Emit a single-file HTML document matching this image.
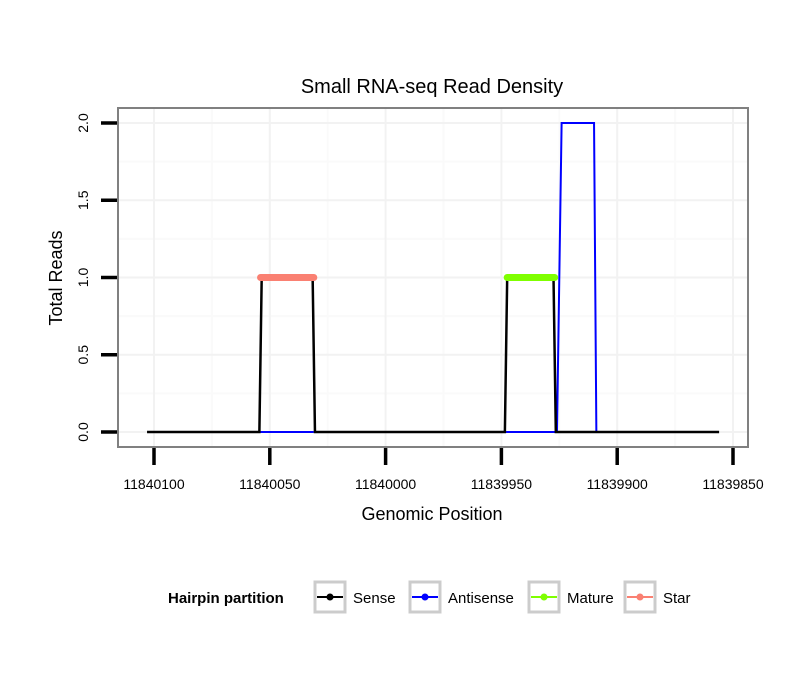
<!DOCTYPE html>
<html><head><meta charset="utf-8"><style>
body{margin:0;background:#fff;font-family:"Liberation Sans",sans-serif}
</style></head><body>
<svg width="810" height="690" xmlns="http://www.w3.org/2000/svg" font-family="Liberation Sans, sans-serif">
<rect width="810" height="690" fill="#fff"/>
<text x="432" y="93" font-size="20" text-anchor="middle">Small RNA-seq Read Density</text>
<g id="grid"></g>
<g id="series"></g>
<rect x="118" y="108" width="630" height="339" fill="none" stroke="#808080" stroke-width="2"/>
<g id="axes"></g>
<text x="432" y="520" font-size="18" text-anchor="middle">Genomic Position</text>
<text transform="translate(62,278) rotate(-90)" font-size="18" text-anchor="middle">Total Reads</text>
<g font-size="15">
<text x="168" y="603" font-weight="bold">Hairpin partition</text>
<g><rect x="315" y="582" width="30" height="30" fill="#fff" stroke="#ccc" stroke-width="3"/><line x1="317" y1="597" x2="343" y2="597" stroke="#000" stroke-width="2"/><circle cx="330" cy="597" r="3.5" fill="#000"/><text x="353" y="603">Sense</text></g>
<g><rect x="410" y="582" width="30" height="30" fill="#fff" stroke="#ccc" stroke-width="3"/><line x1="412" y1="597" x2="438" y2="597" stroke="#00f" stroke-width="2"/><circle cx="425" cy="597" r="3.5" fill="#00f"/><text x="448" y="603">Antisense</text></g>
<g><rect x="529" y="582" width="30" height="30" fill="#fff" stroke="#ccc" stroke-width="3"/><line x1="531" y1="597" x2="557" y2="597" stroke="#7fff00" stroke-width="2"/><circle cx="544" cy="597" r="3.5" fill="#7fff00"/><text x="567" y="603">Mature</text></g>
<g><rect x="625" y="582" width="30" height="30" fill="#fff" stroke="#ccc" stroke-width="3"/><line x1="627" y1="597" x2="653" y2="597" stroke="#fa8072" stroke-width="2"/><circle cx="640" cy="597" r="3.5" fill="#fa8072"/><text x="663" y="603">Star</text></g>
</g>
</svg>
<script>
const xTicks=[11840100,11840050,11840000,11839950,11839900,11839850];
const xTickLabels=["11840100","11840050","11840000","11839950","11839900","11839850"];
const yTicks=[0,0.5,1,1.5,2];
const yTickLabels=["0.0","0.5","1.0","1.5","2.0"];
const sensePos=[11840103,11840054.5,11840053.5,11840031.5,11840030.5,11839948.5,11839947.5,11839927.5,11839926.5,11839856];
const senseVal=[0,0,1,1,0,0,1,1,0,0];
const antiPos1=[11840054,11840031];
const antiVal1=[0,0];
const antiPos2=[11839948,11839926,11839924,11839910,11839909];
const antiVal2=[0,0,2,2,0];
const starPos=[11840054,11840031];
const starVal=[1,1];
const maturePos=[11839947.5,11839927];
const matureVal=[1,1];
const NS="http://www.w3.org/2000/svg";
function X(v){return 154+(11840100-v)*(733-154)/250;}
function Y(v){return 432-v*(432-123)/2;}
function mk(tag,attrs,parent){const e=document.createElementNS(NS,tag);for(const k in attrs)e.setAttribute(k,attrs[k]);parent.appendChild(e);return e;}
const grid=document.getElementById('grid'),axes=document.getElementById('axes'),series=document.getElementById('series');
// minor grid
for(let i=0;i<xTicks.length-1;i++){const m=(xTicks[i]+xTicks[i+1])/2;const l=mk('line',{x1:X(m),x2:X(m),y1:108,y2:447,stroke:'#fafafa','stroke-width':2},grid);}
for(let i=0;i<yTicks.length-1;i++){const m=(yTicks[i]+yTicks[i+1])/2;const l=mk('line',{x1:118,x2:748,y1:Y(m),y2:Y(m),stroke:'#fafafa','stroke-width':2},grid);}
xTicks.forEach((t,i)=>{
 const g=mk('line',{x1:X(t),x2:X(t),y1:108,y2:447,stroke:'#f2f2f2','stroke-width':2},grid);
 
 
 const tk=mk('line',{x1:X(t),x2:X(t),y1:448,y2:465,stroke:'#000','stroke-width':3.5},axes);
 
 
 const tx=mk('text',{x:X(t),y:489,'font-size':14,'text-anchor':'middle'},axes);tx.textContent=xTickLabels[i];
 
 
});
yTicks.forEach((t,i)=>{
 const g=mk('line',{x1:118,x2:748,y1:Y(t),y2:Y(t),stroke:'#f2f2f2','stroke-width':2},grid);
 
 
 const tk=mk('line',{x1:101,x2:117,y1:Y(t),y2:Y(t),stroke:'#000','stroke-width':3.5},axes);
 
 
 const tx=mk('text',{transform:`translate(88,${Y(t)}) rotate(-90)`,'font-size':14,'text-anchor':'middle'},axes);tx.textContent=yTickLabels[i];
 
 
});
function line(pos,val,color,w,name,cap){
 const pts=pos.map((p,i)=>X(p)+','+Y(val[i])).join(' ');
 const e=mk('polyline',{points:pts,fill:'none',stroke:color,'stroke-width':w,'stroke-linecap':cap||'butt','stroke-linejoin':'miter'},series);
 
 
}
line(antiPos1,antiVal1,'#00f',2,'antisense-line');
line(antiPos2,antiVal2,'#00f',2,'antisense-line');
line(sensePos,senseVal,'#000',2.5,'sense-line');
line(starPos,starVal,'#fa8072',7,'star-line','round');
line(maturePos,matureVal,'#7fff00',7,'mature-line','round');
</script>
</body></html>
